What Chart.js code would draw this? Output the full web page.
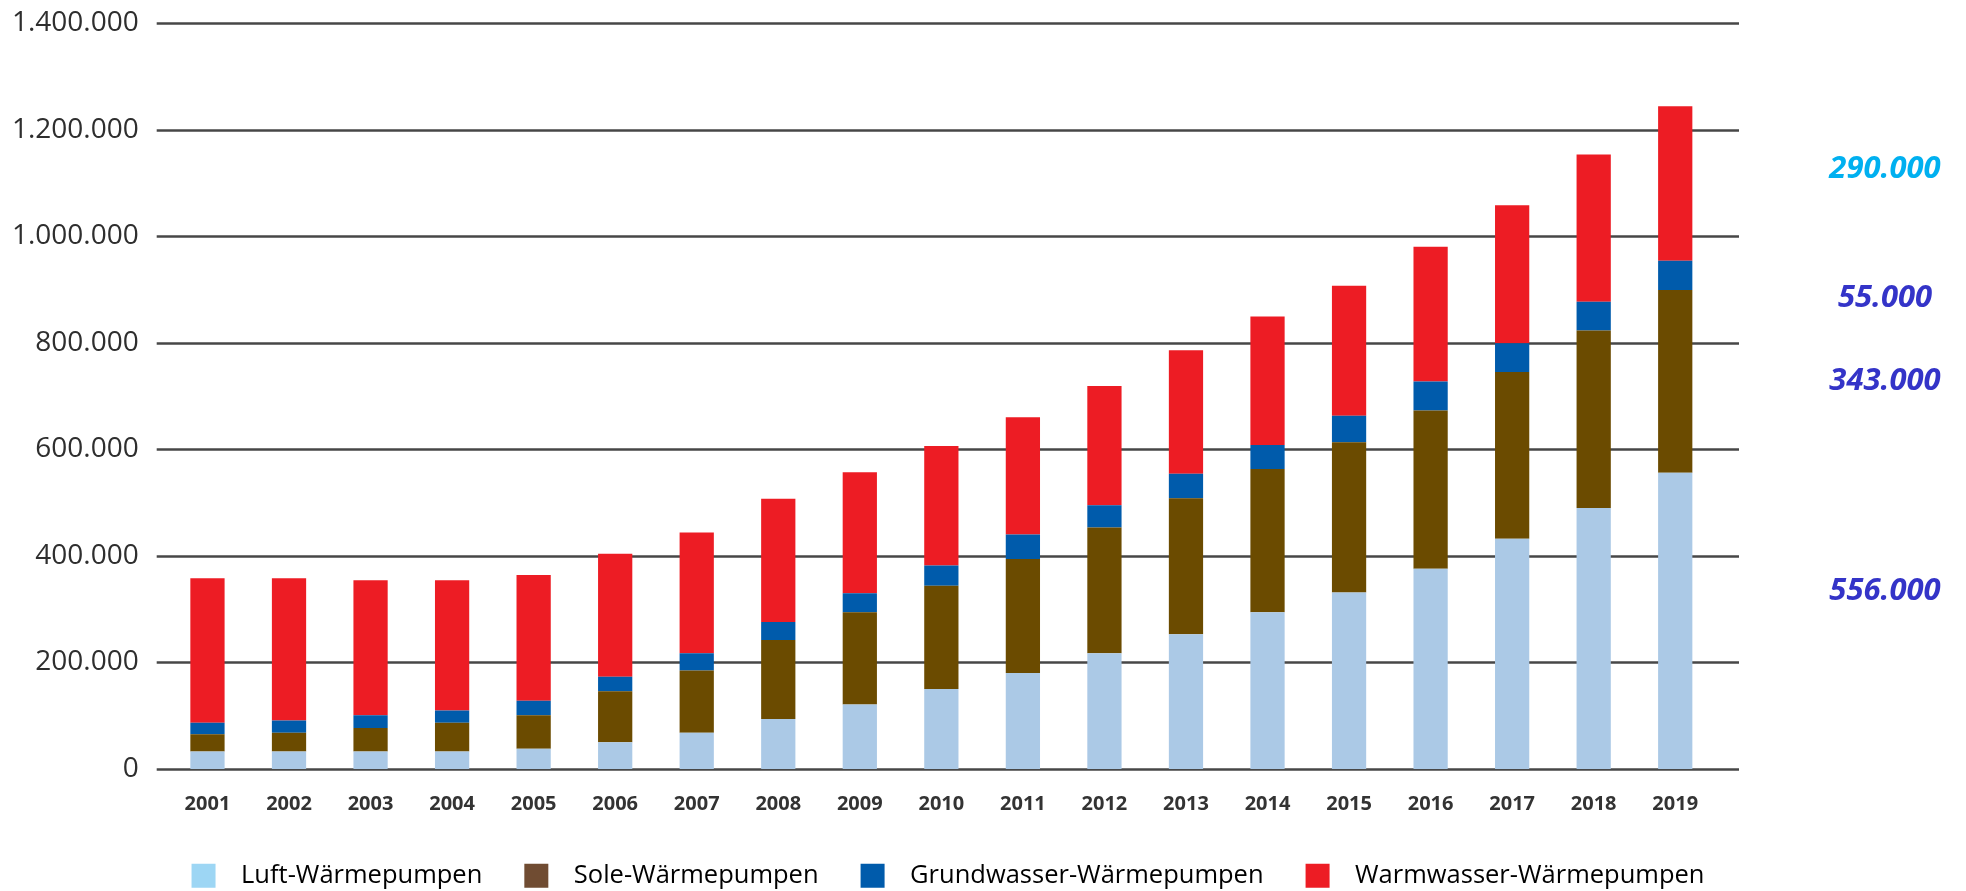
<!DOCTYPE html>
<html>
<head>
<meta charset="utf-8">
<script src="https://cdn.jsdelivr.net/npm/chart.js@4.4.1/dist/chart.umd.min.js"></script>
<style>
  html, body { margin: 0; padding: 0; background: #fff; }
  #wrap { width: 1966px; height: 891px; position: relative; }
</style>
</head>
<body>
<div id="wrap"><canvas id="waermepumpen"></canvas></div>
<script>
// Wärmepumpen-Bestand in Deutschland, 2001-2019
const years = ["2001", "2002", "2003", "2004", "2005", "2006", "2007", "2008", "2009", "2010",
  "2011", "2012", "2013", "2014", "2015", "2016", "2017", "2018", "2019"];

const luft = [33000, 33000, 33000, 33000, 38000, 50000, 68000, 94000, 121000, 150000,
  180000, 217000, 253000, 294000, 331000, 376000, 432000, 490000, 556000];
const sole = [32000, 35000, 44000, 54000, 63000, 96000, 117000, 148000, 173000, 194000,
  214000, 236000, 255000, 269000, 282000, 297000, 313000, 333000, 343000];
const grundwasser = [22000, 23000, 24000, 23000, 27000, 27000, 32000, 34000, 36000, 38000,
  46000, 42000, 46000, 45000, 50000, 54000, 54000, 54000, 55000];
const warmwasser = [271000, 267000, 253000, 244000, 236000, 231000, 227000, 231000, 227000, 224000,
  220000, 224000, 232000, 241000, 244000, 253000, 259000, 276000, 290000];

const yTicks = [0, 200000, 400000, 600000, 800000, 1000000, 1200000, 1400000];

const seriesNames = ["Luft-Wärmepumpen", "Sole-Wärmepumpen", "Grundwasser-Wärmepumpen", "Warmwasser-Wärmepumpen"];
const barColors = ["#abc9e6", "#6b4b00", "#005bab", "#ed1c24"];
const legendColors = ["#9dd6f4", "#704c32", "#005bab", "#ed1c24"];
const sideColors = ["#3434c8", "#3434c8", "#3434c8", "#00b0f0"];
const sideShift = [-29.5, -0.5, 22.5, -14.5];

// 1400000 -> "1.400.000"
function fmt(v) {
  return String(v).replace(/\B(?=(\d{3})+(?!\d))/g, ".");
}

Chart.defaults.font.family = "'Open Sans', 'DejaVu Sans', sans-serif";
Chart.defaults.color = "#333";

// horizontal rules, a bit wider than the plot area
const hLines = {
  id: "hLines",
  beforeDatasetsDraw(chart) {
    const { ctx, chartArea, scales: { y } } = chart;
    ctx.save();
    ctx.strokeStyle = "#474747";
    ctx.lineWidth = 2.5;
    yTicks.forEach(t => {
      const py = Math.round(y.getPixelForValue(t)) + 0.5;
      ctx.beginPath();
      ctx.moveTo(chartArea.left - 10, py);
      ctx.lineTo(chartArea.right + 23, py);
      ctx.stroke();
    });
    ctx.restore();
  }
};

// 2019 values written beside the last bar
const sideLabels = {
  id: "sideLabels",
  afterDraw(chart) {
    const { ctx, chartArea, scales: { y } } = chart;
    const last = years.length - 1;
    let base = 0;
    ctx.save();
    ctx.font = "italic bold 31px 'Open Sans', sans-serif";
    ctx.textAlign = "center";
    ctx.textBaseline = "middle";
    chart.data.datasets.forEach((ds, i) => {
      const v = ds.data[last];
      const mid = y.getPixelForValue(base + v / 2);
      base += v;
      ctx.fillStyle = sideColors[i];
      ctx.fillText(fmt(v), chartArea.right + 169, mid + sideShift[i]);
    });
    ctx.restore();
  }
};

// keep the legend row compact
const legendHeight = {
  id: "legendHeight",
  beforeInit(chart) {
    const fit = chart.legend.fit;
    chart.legend.fit = function () {
      fit.call(this);
      this.height = 70;
    };
  }
};

const seriesData = [luft, sole, grundwasser, warmwasser];

const data = {
  labels: years,
  datasets: seriesData.map((d, i) => ({
    label: seriesNames[i],
    data: d,
    backgroundColor: barColors[i],
    borderWidth: 0,
    barPercentage: 0.42,
    categoryPercentage: 1,
  })),
};

const config = {
  type: "bar",
  data: data,
  options: {
    responsive: true,
    maintainAspectRatio: false,
    animation: false,
    layout: { padding: { top: 23, right: 70, bottom: 0, left: 0 } },
    plugins: {
      tooltip: { enabled: false },
      legend: {
        position: "bottom",
        labels: {
          boxWidth: 24,
          boxHeight: 24,
          padding: 42,
          color: "#333",
          font: { size: 25.5 },
          generateLabels: chart => chart.data.datasets.map((ds, i) => ({
            text: "\u2002" + ds.label,
            fillStyle: legendColors[i],
            strokeStyle: legendColors[i],
            lineWidth: 0,
            datasetIndex: i,
            hidden: false,
          })),
        },
      },
    },
    scales: {
      x: {
        stacked: true,
        grid: { display: false },
        border: { display: false },
        ticks: {
          padding: 15.5,
          maxRotation: 0,
          autoSkip: false,
          color: "#333",
          font: { size: 20, weight: "bold" },
        },
        afterFit(s) { s.height = 52; },
      },
      y: {
        stacked: true,
        min: 0,
        max: 1400000,
        grid: { display: false },
        border: { display: false },
        ticks: {
          stepSize: 200000,
          padding: 20,
          color: "#2e2e2e",
          font: { size: 28 },
          callback: v => fmt(v),
        },
        afterFit(s) {
          s.width = 166.7;
          s.paddingTop = 0;
          s.paddingBottom = 0;
        },
      },
      yR: {
        axis: "y",
        type: "linear",
        position: "right",
        grid: { display: false },
        border: { display: false },
        ticks: { display: false },
        afterFit(s) { s.width = 180; },
      },
    },
  },
  plugins: [legendHeight, hLines, sideLabels],
};

const chart = new Chart(document.getElementById("waermepumpen"), config);
</script>
</body>
</html>
